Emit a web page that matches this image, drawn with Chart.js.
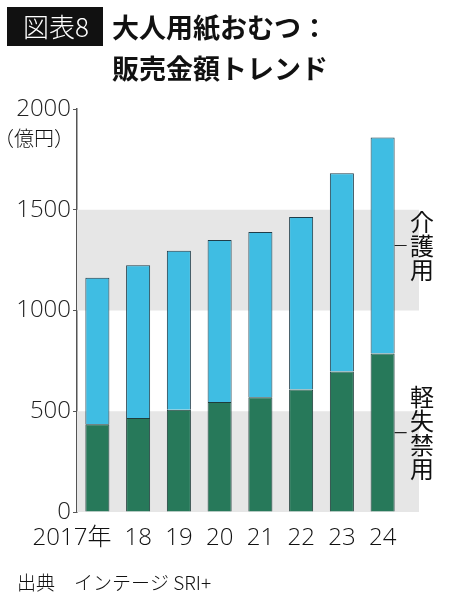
<!DOCTYPE html>
<html>
<head>
<meta charset="utf-8">
<script src="https://cdn.jsdelivr.net/npm/chart.js@4"></script>
<style>
  html, body { margin: 0; padding: 0; background: #fff; }
  #wrap { width: 450px; height: 599px; position: relative; }
</style>
</head>
<body>
<div id="wrap"><canvas id="chart"></canvas></div>
<script>
// Years on the x axis
const years = ["2017年", "18", "19", "20", "21", "22", "23", "24"];
// Light incontinence (軽失禁用), bottom segment, 億円
const lightIncontinence = [436, 467, 507, 546, 570, 608, 697, 787];
// Nursing care (介護用), top segment, 億円
const nursingCare = [726, 758, 790, 804, 819, 856, 984, 1071];
// y axis ticks
const yTicks = [0, 500, 1000, 1500, 2000];
// shaded bands behind the bars
const bands = [[0, 500], [1000, 1500]];

const FONT = "'Noto Sans CJK JP', 'Noto Sans', sans-serif";
const NUM_FONT = "'Open Sans', 'Noto Sans CJK JP', sans-serif";

// Draws the grey bands behind the bars
const bandPlugin = {
  id: "bands",
  beforeDatasetsDraw(chart) {
    const { ctx, chartArea, scales } = chart;
    ctx.save();
    ctx.fillStyle = "#e6e6e6";
    for (const [lo, hi] of bands) {
      const y1 = scales.y.getPixelForValue(hi);
      const y2 = scales.y.getPixelForValue(lo);
      ctx.fillRect(chartArea.left, y1, 419 - chartArea.left, y2 - y1);
    }
    ctx.restore();
  }
};

// Title, unit, x labels, series labels and source
const textPlugin = {
  id: "texts",
  afterDraw(chart) {
    const { ctx, scales } = chart;
    ctx.save();

    // title box
    ctx.fillStyle = "#111";
    ctx.fillRect(7, 7, 96, 39);
    ctx.fillStyle = "#fff";
    ctx.font = "300 26px " + FONT;
    ctx.textBaseline = "middle";
    ctx.textAlign = "center";
    ctx.fillText("図表8", 56, 27);

    ctx.fillStyle = "#111";
    ctx.textAlign = "left";
    ctx.font = "bold 27px " + FONT;
    ctx.fillText("大人用紙おむつ：", 112, 28);
    ctx.fillText("販売金額トレンド", 112, 69);

    // unit
    ctx.font = "300 20px " + FONT;
    ctx.textAlign = "right";
    ctx.fillText("（億円）", 74, 138);

    // x labels
    ctx.font = "300 24px " + NUM_FONT;
    years.forEach((label, i) => {
      const x = scales.x.getPixelForValue(i);
      if (i === 0) {
        ctx.textAlign = "right";
        ctx.fillText(label, x + 14, 538);
      } else {
        ctx.textAlign = "center";
        ctx.fillText(label, x, 538);
      }
    });

    // series labels at the right, pointing to the middle of each segment of the last bar
    const last = years.length - 1;
    const meta = chart.getDatasetMeta(0).data[last];
    const barRight = meta.x + meta.width / 2;
    const midGreen = scales.y.getPixelForValue(lightIncontinence[last] / 2);
    const midBlue = scales.y.getPixelForValue(lightIncontinence[last] + nursingCare[last] / 2);
    ctx.strokeStyle = "#222";
    ctx.lineWidth = 1.2;
    ctx.beginPath();
    ctx.moveTo(barRight, midBlue); ctx.lineTo(barRight + 12, midBlue);
    ctx.moveTo(barRight, midGreen); ctx.lineTo(barRight + 12, midGreen);
    ctx.stroke();

    ctx.font = "24px " + FONT;
    ctx.textAlign = "center";
    const drawVertical = (text, cy) => {
      const chars = [...text];
      const step = 24;
      const top = cy - (chars.length * step) / 2 + step / 2;
      chars.forEach((c, k) => ctx.fillText(c, 422, top + k * step));
    };
    drawVertical("介護用", midBlue);
    drawVertical("軽失禁用", midGreen);

    // source
    ctx.font = "300 19px " + FONT;
    ctx.textAlign = "left";
    ctx.fillText("出典　インテージ SRI+", 17, 583);

    ctx.restore();
  }
};

const chart = new Chart(document.getElementById("chart"), {
  type: "bar",
  data: {
    labels: years,
    datasets: [
      {
        label: "軽失禁用",
        data: lightIncontinence,
        backgroundColor: "#27795a",
        borderColor: "#1f3d3a",
        borderWidth: 1,
        barPercentage: 0.59,
        categoryPercentage: 1
      },
      {
        label: "介護用",
        data: nursingCare,
        backgroundColor: "#3fbde3",
        borderColor: "#1f3d4a",
        borderWidth: 1,
        barPercentage: 0.59,
        categoryPercentage: 1
      }
    ]
  },
  options: {
    responsive: true,
    maintainAspectRatio: false,
    animation: false,
    layout: { padding: { top: 109, right: 47, bottom: 87, left: 0 } },
    plugins: {
      legend: { display: false },
      tooltip: { enabled: false }
    },
    scales: {
      x: {
        stacked: true,
        display: false
      },
      y: {
        stacked: true,
        min: 0,
        max: 2000,
        afterFit(scale) { scale.width = 77; },
        afterBuildTicks(scale) { scale.ticks = yTicks.map(v => ({ value: v })); },
        border: { display: true, color: "#555", width: 1.5 },
        grid: { display: true, drawOnChartArea: false, tickLength: 4, color: "#555" },
        ticks: {
          padding: 2,
          color: "#222",
          callback: (v) => String(v),
          font: { family: NUM_FONT, size: 24, weight: "300" }
        }
      }
    }
  },
  plugins: [bandPlugin, textPlugin]
});
</script>
</body>
</html>
